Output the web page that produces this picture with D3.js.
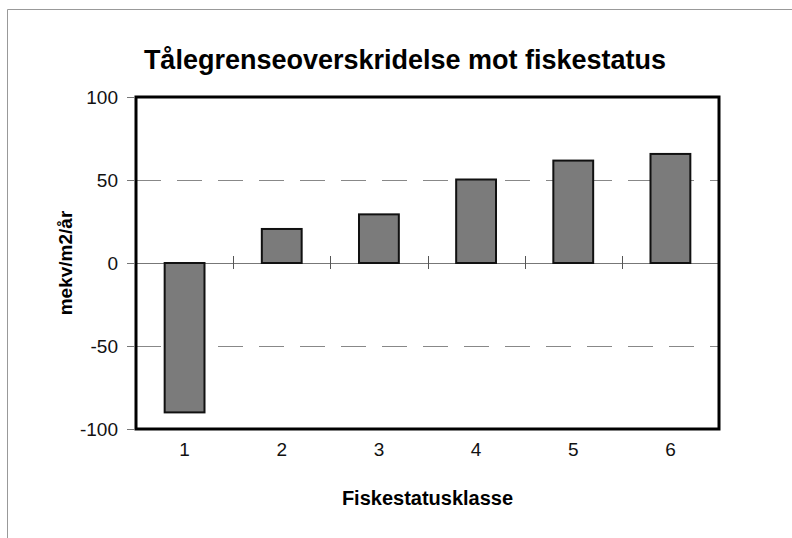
<!DOCTYPE html>
<html lang="no">
<head>
<meta charset="utf-8">
<style>
  body { margin: 0; background: white; }
  svg { font-family: 'Liberation Sans', Arial, sans-serif; }
  .grid line { stroke: #888; stroke-width: 1px; stroke-dasharray: 25,16; }
  .axis text { font-size: 19px; fill: #111; }
</style>
</head>
<body>
<svg width="792" height="538"></svg>
<script src="https://d3js.org/d3.v7.min.js"></script>
<script>
const categories = ["1", "2", "3", "4", "5", "6"];
const values = [-90, 20.5, 29.3, 50.3, 61.7, 65.7];
const yTicks = [100, 50, 0, -50, -100];
const gridTicks = [50, -50];

const svg = d3.select("svg");
const margin = { top: 97, right: 73, bottom: 109, left: 136 };
const width = 792, height = 538;

const x = d3.scaleBand().domain(categories)
  .range([margin.left, width - margin.right])
  .paddingInner(0.59).paddingOuter(0.295);
const xb = d3.scaleBand().domain(categories)
  .range([margin.left, width - margin.right]);
const y = d3.scaleLinear().domain([-100, 100])
  .range([height - margin.bottom, margin.top]);

// outer chart frame
svg.append("path")
  .attr("d", "M7.5," + height + "V9.5H" + width)
  .attr("fill", "none").attr("stroke", "#999").attr("stroke-width", 1);

// title
svg.append("text")
  .attr("x", 405).attr("y", 69)
  .attr("text-anchor", "middle")
  .style("font-size", "27px").style("font-weight", "bold")
  .text("Tålegrenseoverskridelse mot fiskestatus");

// dashed gridlines
svg.append("g").attr("class", "grid")
  .selectAll("line").data(gridTicks).join("line")
  .attr("x1", margin.left).attr("x2", width - margin.right)
  .attr("y1", d => Math.round(y(d)) + 0.5).attr("y2", d => Math.round(y(d)) + 0.5);

// zero line with crossing category ticks
svg.append("line")
  .attr("x1", margin.left).attr("x2", width - margin.right)
  .attr("y1", Math.round(y(0)) + 0.5).attr("y2", Math.round(y(0)) + 0.5)
  .attr("stroke", "#777").attr("stroke-width", 1);
svg.append("g")
  .selectAll("line").data(categories.slice(1)).join("line")
  .attr("x1", d => Math.round(xb(d)) + 0.5).attr("x2", d => Math.round(xb(d)) + 0.5)
  .attr("y1", y(0) - 7).attr("y2", y(0) + 6)
  .attr("stroke", "#555").attr("stroke-width", 1);

// bars
svg.append("g")
  .selectAll("rect").data(values).join("rect")
  .attr("x", (d, i) => x(categories[i]))
  .attr("width", x.bandwidth())
  .attr("y", d => y(Math.max(0, d)))
  .attr("height", d => Math.abs(y(d) - y(0)))
  .attr("fill", "#7b7b7b")
  .attr("stroke", "#111").attr("stroke-width", 2);

// plot border
svg.append("rect")
  .attr("x", margin.left).attr("y", margin.top)
  .attr("width", width - margin.left - margin.right)
  .attr("height", height - margin.top - margin.bottom)
  .attr("fill", "none").attr("stroke", "#000").attr("stroke-width", 3);

// y axis
const yAxis = d3.axisLeft(y).tickValues(yTicks).tickSize(8).tickPadding(9)
  .tickFormat(d => String(d));
svg.append("g").attr("class", "axis y")
  .attr("transform", "translate(" + (margin.left - 1) + ",0)")
  .call(yAxis)
  .call(g => g.select(".domain").remove())
  .call(g => g.selectAll(".tick line").attr("stroke", "#777"));

// x axis labels
const xAxis = d3.axisBottom(x).tickSize(0).tickPadding(14);
svg.append("g").attr("class", "axis x")
  .attr("transform", "translate(0," + (height - margin.bottom) + ")")
  .call(xAxis)
  .call(g => g.select(".domain").remove());

// axis titles
svg.append("text")
  .attr("x", (margin.left + width - margin.right) / 2).attr("y", 505)
  .attr("text-anchor", "middle")
  .style("font-size", "20px").style("font-weight", "bold")
  .text("Fiskestatusklasse");

svg.append("text")
  .attr("transform", "translate(72," + y(0) + ") rotate(-90)")
  .attr("text-anchor", "middle")
  .style("font-size", "19px").style("font-weight", "bold")
  .text("mekv/m2/år");
</script>
</body>
</html>
